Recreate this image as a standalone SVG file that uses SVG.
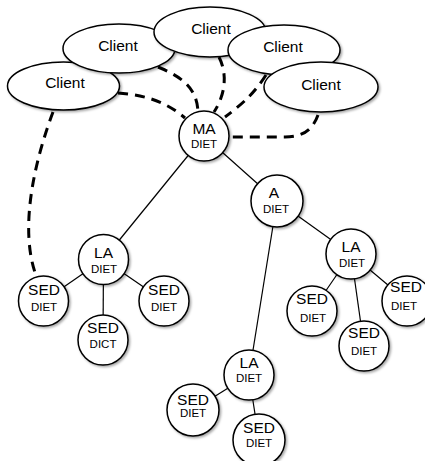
<svg xmlns="http://www.w3.org/2000/svg" width="425" height="461" viewBox="0 0 425 461">
<defs>
<filter id="sh" x="-20%" y="-20%" width="140%" height="140%">
<feDropShadow dx="1.5" dy="1.5" stdDeviation="1.2" flood-color="#000" flood-opacity="0.35"/>
</filter>
<style>
.n{fill:#fff;stroke:#000;stroke-width:1.5;filter:url(#sh)}
.t{font-family:"Liberation Sans",Arial,sans-serif;fill:#000;text-anchor:middle}
.big{font-size:15.5px}
.sm{font-size:11.5px}
.solid{stroke:#000;stroke-width:1.2;fill:none}
.dash{stroke:#000;stroke-width:3;fill:none;stroke-dasharray:10 7}
</style>
</defs>
<rect width="425" height="461" fill="#fff"/>
<g id="connectors">
<path class="dash" d="M53,112 C 35,160 18,230 37,278"/>
<path class="dash" d="M118,93 C 150,95 170,105 185,118"/>
<path class="dash" d="M158,67 C 185,78 197,90 198,112"/>
<path class="dash" d="M219,57 C 228,75 225,95 214,112"/>
<path class="dash" d="M266,75 C 255,92 245,102 225,117"/>
<path class="dash" d="M318,115 C 312,132 300,137 285,137 L 230,137"/>
<line class="solid" x1="204" y1="136" x2="103.5" y2="259.5"/>
<line class="solid" x1="204" y1="136" x2="277" y2="201"/>
<line class="solid" x1="277" y1="201" x2="249" y2="375"/>
<line class="solid" x1="277" y1="201" x2="351" y2="254"/>
<line class="solid" x1="351" y1="254" x2="312" y2="311"/>
<line class="solid" x1="351" y1="254" x2="364" y2="346"/>
<line class="solid" x1="351" y1="254" x2="407" y2="301"/>
<line class="solid" x1="103.5" y1="259.5" x2="43.5" y2="301"/>
<line class="solid" x1="103.5" y1="259.5" x2="164" y2="301"/>
<line class="solid" x1="103.5" y1="259.5" x2="103" y2="340"/>
<line class="solid" x1="249" y1="375" x2="193" y2="410"/>
<line class="solid" x1="249" y1="375" x2="259" y2="440"/>
</g>
<g id="client1"><ellipse class="n" cx="63.5" cy="86" rx="56" ry="24"/><text class="t big" x="65" y="88">Client</text></g>
<g id="client2"><ellipse class="n" cx="119" cy="48.5" rx="56" ry="24.5"/><text class="t big" x="118" y="51">Client</text></g>
<g id="client3"><ellipse class="n" cx="210" cy="32" rx="56" ry="25"/><text class="t big" x="211" y="34">Client</text></g>
<g id="client4"><ellipse class="n" cx="284" cy="50" rx="56" ry="25"/><text class="t big" x="283" y="52">Client</text></g>
<g id="client5"><ellipse class="n" cx="321" cy="87" rx="57" ry="25"/><text class="t big" x="321" y="90">Client</text></g>
<g id="ma"><circle class="n" cx="204" cy="136" r="25"/><text class="t big" x="204" y="134">MA</text><text class="t sm" x="204" y="148">DIET</text></g>
<g id="a"><circle class="n" cx="277" cy="201" r="26"/><text class="t big" x="274" y="198">A</text><text class="t sm" x="276" y="213">DIET</text></g>
<g id="la-left"><circle class="n" cx="103.5" cy="259.5" r="25"/><text class="t big" x="103.5" y="258">LA</text><text class="t sm" x="104" y="273">DIET</text></g>
<g id="sed-l1"><circle class="n" cx="43.5" cy="301" r="25"/><text class="t big" x="44" y="295">SED</text><text class="t sm" x="44" y="311">DIET</text></g>
<g id="sed-l2"><circle class="n" cx="164" cy="301" r="25"/><text class="t big" x="164" y="295">SED</text><text class="t sm" x="164" y="311">DIET</text></g>
<g id="sed-l3"><circle class="n" cx="103" cy="340" r="25"/><text class="t big" x="103" y="333">SED</text><text class="t sm" x="103" y="348">DICT</text></g>
<g id="la-right"><circle class="n" cx="351" cy="254" r="25"/><text class="t big" x="351" y="252">LA</text><text class="t sm" x="352" y="267">DIET</text></g>
<g id="sed-r1"><circle class="n" cx="312" cy="311" r="25"/><text class="t big" x="312" y="304">SED</text><text class="t sm" x="313" y="322">DIET</text></g>
<g id="sed-r2"><circle class="n" cx="364" cy="346" r="25"/><text class="t big" x="364" y="338">SED</text><text class="t sm" x="364" y="355">DIET</text></g>
<g id="sed-r3"><circle class="n" cx="407" cy="301" r="25"/><text class="t big" x="406" y="292">SED</text><text class="t sm" x="404" y="310">DIET</text></g>
<g id="la-bottom"><circle class="n" cx="249" cy="375" r="25"/><text class="t big" x="249" y="368">LA</text><text class="t sm" x="249" y="382">DIET</text></g>
<g id="sed-b1"><circle class="n" cx="193" cy="410" r="26"/><text class="t big" x="193" y="405">SED</text><text class="t sm" x="193" y="417">DIET</text></g>
<g id="sed-b2"><circle class="n" cx="259" cy="440" r="26"/><text class="t big" x="259" y="433">SED</text><text class="t sm" x="259" y="447">DIET</text></g>
</svg>
